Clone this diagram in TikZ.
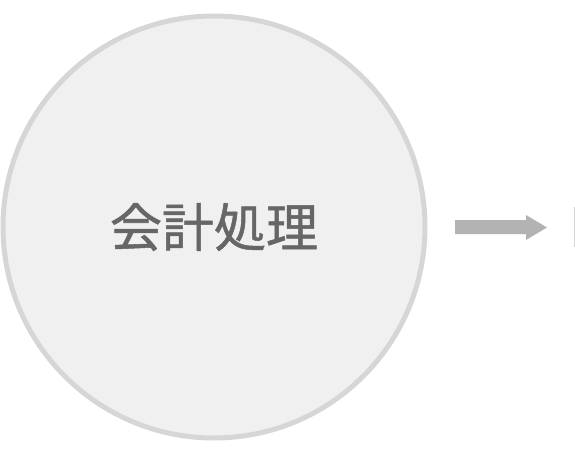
\documentclass[tikz,border=0pt]{standalone}
\usepackage{fontspec}
\usepackage{tikz}
\newfontfamily\jpfont[FakeBold=1]{Noto Sans CJK JP}
\definecolor{procfill}{HTML}{F0F0F0}
\definecolor{procline}{HTML}{D6D6D6}
\definecolor{proctext}{HTML}{666666}
\definecolor{arrowgray}{HTML}{B3B3B3}

\begin{document}
\begin{tikzpicture}[x=1pt,y=-1pt]
\useasboundingbox (0,0) rectangle (575,453);
\node[circle,draw=procline,fill=procfill,line width=5pt,minimum size=422pt,inner sep=0pt,
  text=proctext,font=\jpfont\fontsize{52}{52}\selectfont] (proc) at (214,227) {会計処理};
\fill[arrowgray] (455,220) -- (526,220) -- (526,215) -- (547,227.5) -- (526,240) -- (526,234) -- (455,234) -- cycle;
\fill[procline] (573.5,207) rectangle (575,247);
\end{tikzpicture}
\end{document}
